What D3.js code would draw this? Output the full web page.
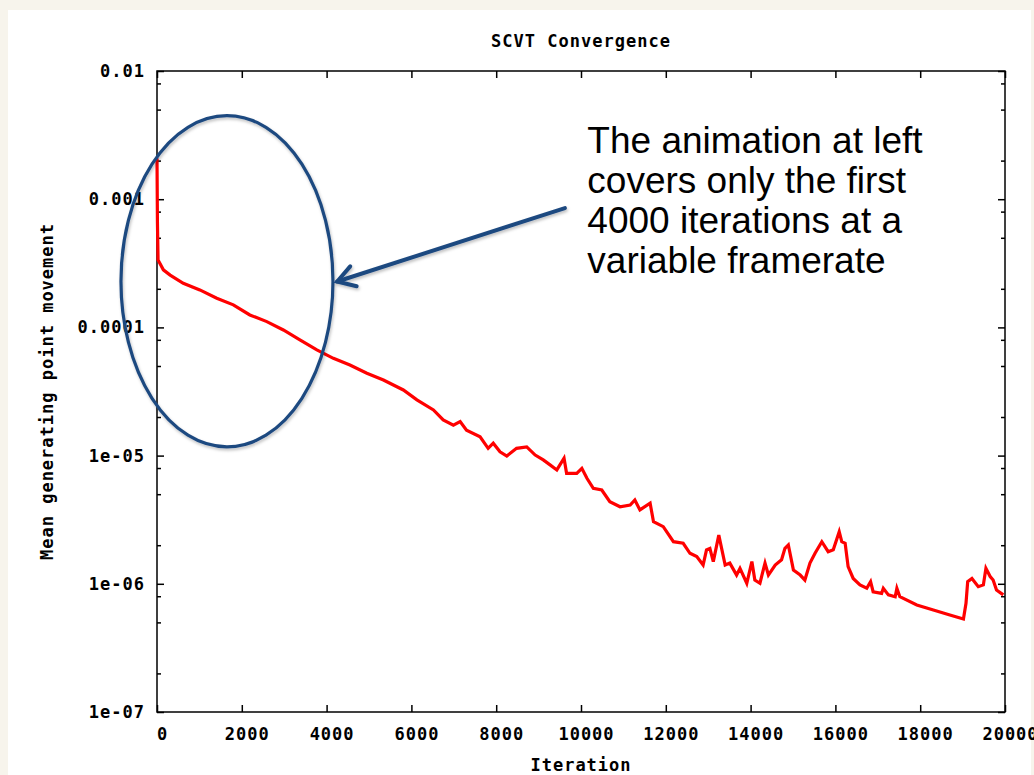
<!DOCTYPE html>
<html>
<head>
<meta charset="utf-8">
<script src="https://cdn.jsdelivr.net/npm/d3@7"></script>
<style>
  html, body { margin: 0; padding: 0; background: #f7f4ec; }
  #panel { position: absolute; left: 8px; top: 10px; width: 1023px; height: 765px; background: #fff; }
  svg { position: absolute; left: 0; top: 0; }
  .gp { font-family: "DejaVu Sans Mono", monospace; font-weight: bold; font-size: 17px; letter-spacing: 1px; fill: #000; }
  .axis path, .axis line { stroke: #000; stroke-width: 1.5; }
  .note { font-family: "Liberation Sans", Arial, sans-serif; font-size: 37px; fill: #000; }
</style>
</head>
<body>
<div id="panel"></div>
<svg id="chart" width="1034" height="775"></svg>
<script>
// iteration number / mean generating point movement
let iterations = [0, 10, 25, 150, 310, 620, 1010, 1410, 1800, 2190, 2590, 2980, 3370, 3770, 4160, 4550,
    4950, 5340, 5810, 6130, 6520, 6750, 6990, 7150, 7300, 7620, 7810, 7930, 8090, 8250, 8480, 8720,
    8920, 9110, 9270, 9430, 9600, 9660, 9900, 10020, 10140, 10290, 10490, 10680, 10920, 11160, 11270,
    11390, 11630, 11710, 11940, 12180, 12410, 12570, 12730, 12880, 12960, 13040, 13120, 13250, 13400,
    13510, 13670, 13750, 13910, 14030, 14100, 14220, 14340, 14420, 14580, 14730, 14810, 14890, 15010,
    15170, 15280, 15400, 15520, 15680, 15830, 15950, 16090, 16150, 16230, 16300, 16420, 16580, 16740,
    16830, 16890, 17090, 17130, 17250, 17410, 17450, 17520, 17920, 18310, 18700, 19020, 19080, 19120,
    19220, 19370, 19490, 19550, 19650, 19720, 19800, 19960];
let movement = [2.09e-3, 6.67e-4, 3.36e-4, 2.81e-4, 2.56e-4, 2.21e-4, 1.96e-4, 1.69e-4, 1.50e-4, 1.25e-4,
    1.11e-4, 9.55e-5, 7.98e-5, 6.67e-5, 5.74e-5, 5.09e-5, 4.39e-5, 3.89e-5, 3.25e-5, 2.72e-5, 2.27e-5,
    1.90e-5, 1.73e-5, 1.84e-5, 1.58e-5, 1.40e-5, 1.14e-5, 1.25e-5, 1.07e-5, 9.93e-6, 1.14e-5, 1.17e-5,
    1.01e-5, 9.25e-6, 8.46e-6, 7.73e-6, 9.53e-6, 7.28e-6, 7.28e-6, 7.96e-6, 6.65e-6, 5.56e-6, 5.39e-6,
    4.37e-6, 3.99e-6, 4.12e-6, 4.51e-6, 3.77e-6, 4.25e-6, 3.05e-6, 2.79e-6, 2.13e-6, 2.07e-6, 1.73e-6,
    1.63e-6, 1.40e-6, 1.84e-6, 1.89e-6, 1.49e-6, 2.40e-6, 1.40e-6, 1.45e-6, 1.17e-6, 1.32e-6, 1.01e-6,
    1.49e-6, 1.07e-6, 1.01e-6, 1.45e-6, 1.17e-6, 1.40e-6, 1.54e-6, 1.89e-6, 2.01e-6, 1.28e-6, 1.17e-6,
    1.07e-6, 1.45e-6, 1.73e-6, 2.13e-6, 1.78e-6, 1.84e-6, 2.55e-6, 2.13e-6, 2.07e-6, 1.36e-6, 1.10e-6,
    9.80e-7, 9.23e-7, 1.04e-6, 8.67e-7, 8.43e-7, 9.23e-7, 8.19e-7, 7.93e-7, 9.23e-7, 7.93e-7, 6.84e-7,
    6.25e-7, 5.71e-7, 5.31e-7, 7.05e-7, 1.04e-6, 1.10e-6, 9.49e-7, 9.80e-7, 1.32e-6, 1.14e-6, 1.07e-6,
    8.95e-7, 8.19e-7];

let xTicks = [0, 2000, 4000, 6000, 8000, 10000, 12000, 14000, 16000, 18000, 20000];
let yTicks = [1e-2, 1e-3, 1e-4, 1e-5, 1e-6, 1e-7];
let yTickLabels = ["0.01", "0.001", "0.0001", "1e-05", "1e-06", "1e-07"];
let yMinorSteps = [2, 5, 8];

let noteLines = ["The animation at left", "covers only the first", "4000 iterations at a", "variable framerate"];

let margin = {top: 71, right: 29, bottom: 63, left: 157};
let width = 1034 - margin.left - margin.right;
let height = 775 - margin.top - margin.bottom;

let svg = d3.select("#chart");
let g = svg.append("g").attr("transform", "translate(" + margin.left + "," + margin.top + ")");

let x = d3.scaleLinear().domain([0, 20000]).range([0, width]);
let y = d3.scaleLog().domain([1e-7, 1e-2]).range([height, 0]);

// minor ticks at 2,5,8 of every decade
let yMinor = [];
yTicks.slice(1).forEach((d) => yMinorSteps.forEach((k) => yMinor.push(d * k)));

let yLabel = (d) => yTickLabels[yTicks.indexOf(d)];

// left axis with labels, ticks pointing inward
g.append("g")
    .attr("class", "axis gp")
    .call(d3.axisLeft(y).tickValues(yTicks).tickFormat(yLabel).tickSize(-7).tickPadding(12))
    .call((a) => a.select(".domain").remove());
g.append("g")
    .attr("class", "axis")
    .call(d3.axisLeft(y).tickValues(yMinor).tickFormat("").tickSize(-4))
    .call((a) => a.select(".domain").remove());

// right mirror
g.append("g")
    .attr("class", "axis")
    .attr("transform", "translate(" + width + ",0)")
    .call(d3.axisLeft(y).tickValues(yTicks).tickFormat("").tickSize(7))
    .call((a) => a.select(".domain").remove());
g.append("g")
    .attr("class", "axis")
    .attr("transform", "translate(" + width + ",0)")
    .call(d3.axisLeft(y).tickValues(yMinor).tickFormat("").tickSize(4))
    .call((a) => a.select(".domain").remove());

// bottom axis
g.append("g")
    .attr("class", "axis gp")
    .attr("transform", "translate(0," + height + ")")
    .call(d3.axisBottom(x).tickValues(xTicks).tickFormat(d3.format("d")).tickSize(-7).tickPadding(16))
    .call((a) => a.select(".domain").remove())
    .selectAll("text").attr("dx", 5);

// top mirror
g.append("g")
    .attr("class", "axis")
    .call(d3.axisBottom(x).tickValues(xTicks).tickFormat("").tickSize(7))
    .call((a) => a.select(".domain").remove());

g.selectAll(".axis text").attr("fill", "#000").style("font-size", "17px");

// frame
g.append("rect")
    .attr("width", width)
    .attr("height", height)
    .attr("fill", "none")
    .attr("stroke", "#000")
    .attr("stroke-width", 1.5);

// the curve
let line = d3.line()
    .x((d, i) => x(iterations[i]))
    .y((d) => y(d));

g.append("path")
    .datum(movement)
    .attr("fill", "none")
    .attr("stroke", "#ff0000")
    .attr("stroke-width", 3.2)
    .attr("stroke-linejoin", "miter")
    .attr("d", line);

// titles
svg.append("text")
    .attr("class", "gp")
    .attr("x", margin.left + width / 2)
    .attr("y", 47)
    .attr("text-anchor", "middle")
    .text("SCVT Convergence");

svg.append("text")
    .attr("class", "gp")
    .attr("x", margin.left + width / 2)
    .attr("y", 771)
    .attr("text-anchor", "middle")
    .text("Iteration");

svg.append("text")
    .attr("class", "gp")
    .attr("transform", "translate(47," + (margin.top + height / 2) + ") rotate(-90)")
    .attr("dy", "0.35em")
    .attr("text-anchor", "middle")
    .text("Mean generating point movement");

// annotation: ellipse round the first 4000 iterations, arrow and note
let navy = "#1f4a80";
let defs = svg.append("defs");
defs.append("filter")
    .attr("id", "shadow")
    .append("feDropShadow")
    .attr("dx", 1).attr("dy", 2).attr("stdDeviation", 1.5)
    .attr("flood-color", "#000").attr("flood-opacity", 0.25);

let ex0 = x(-850), ex1 = x(4150);
let ey0 = y(4.48e-3), ey1 = y(1.17e-5);
g.append("ellipse")
    .attr("cx", (ex0 + ex1) / 2)
    .attr("cy", (ey0 + ey1) / 2)
    .attr("rx", (ex1 - ex0) / 2)
    .attr("ry", (ey1 - ey0) / 2)
    .attr("fill", "none")
    .attr("stroke", navy)
    .attr("stroke-width", 3.2)
    .attr("filter", "url(#shadow)");

let ax0 = x(9620), ay0 = y(8.53e-4);
let ax1 = x(4250), ay1 = y(2.28e-4);
let ang = Math.atan2(ay1 - ay0, ax1 - ax0);
let head = 20;
let arrow = g.append("g")
    .attr("stroke", navy)
    .attr("stroke-width", 4)
    .attr("stroke-linecap", "round")
    .attr("fill", "none")
    .attr("filter", "url(#shadow)");
arrow.append("line")
    .attr("x1", ax0).attr("y1", ay0)
    .attr("x2", ax1).attr("y2", ay1);
arrow.append("path")
    .attr("d", "M" + (ax1 - head * Math.cos(ang - 0.55)) + "," + (ay1 - head * Math.sin(ang - 0.55)) +
        "L" + ax1 + "," + ay1 +
        "L" + (ax1 - head * Math.cos(ang + 0.55)) + "," + (ay1 - head * Math.sin(ang + 0.55)));

let note = g.append("text")
    .attr("class", "note")
    .attr("x", x(10150))
    .attr("y", y(2.29e-3));
note.selectAll("tspan")
    .data(noteLines)
    .enter()
    .append("tspan")
    .attr("x", x(10150))
    .attr("dy", (d, i) => i === 0 ? 0 : 40)
    .text((d) => d);
</script>
</body>
</html>
